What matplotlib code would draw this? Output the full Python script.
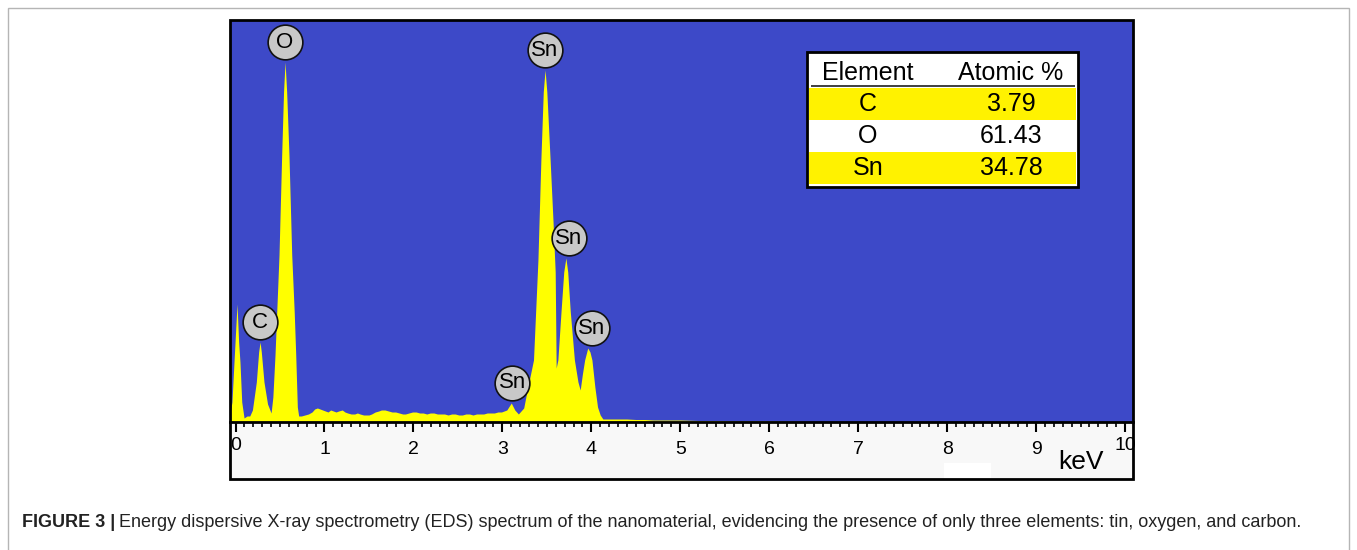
import matplotlib.pyplot as plt
from matplotlib.patches import Rectangle
from matplotlib.ticker import MultipleLocator
from matplotlib.transforms import ScaledTranslation

plt.rcParams["font.family"] = ["Liberation Sans", "DejaVu Sans"]

# EDS spectrum (energy in keV, counts in arbitrary units)
energy_kev = [
    -0.062, -0.04, -0.017, 0.017, 0.035, 0.05, 0.07, 0.096, 0.13,
    0.16, 0.19, 0.234, 0.26, 0.276, 0.29, 0.32, 0.36, 0.40,
    0.42, 0.444, 0.489, 0.519, 0.54, 0.557, 0.575, 0.601, 0.632, 0.66,
    0.677, 0.695, 0.71,
    0.74, 0.78, 0.82, 0.86, 0.89, 0.92, 0.95, 0.98,
    1.01, 1.04, 1.07, 1.10, 1.13, 1.16, 1.20, 1.23, 1.26, 1.30,
    1.34, 1.37, 1.40, 1.44, 1.47, 1.50, 1.53, 1.57, 1.61, 1.64,
    1.68, 1.72, 1.76, 1.80, 1.84, 1.88, 1.91, 1.95, 1.99, 2.03,
    2.07, 2.11, 2.15, 2.19, 2.23, 2.27, 2.31, 2.35, 2.39, 2.43,
    2.47, 2.51, 2.55, 2.59, 2.63, 2.67, 2.71, 2.75, 2.79, 2.83,
    2.87, 2.91, 2.95, 2.99, 3.05, 3.10, 3.14, 3.18,
    3.24, 3.275, 3.35, 3.40, 3.433, 3.46, 3.48, 3.50, 3.537, 3.57,
    3.594, 3.605,
    3.624, 3.66, 3.69, 3.714, 3.735, 3.763, 3.81, 3.85, 3.875,
    3.90, 3.925, 3.96, 3.985, 4.007, 4.04, 4.07, 4.10, 4.13,
    4.2, 4.3, 4.4, 4.5, 4.6, 4.7, 4.8, 5.0, 5.2, 5.4, 5.6, 5.9,
    6.5, 7.5, 8.5, 9.5, 10.1,
]
counts = [
    8, 20, 60, 118, 80, 60, 20, 4, 6,
    6, 12, 40, 70, 80, 70, 40, 18, 9,
    25, 67, 167, 267, 330, 360, 330, 267, 167, 110,
    67, 15, 6,
    6, 7, 8, 10, 13, 14, 13, 12,
    11, 10, 12, 11, 10, 11, 12, 10, 9, 8,
    8, 9, 8, 7, 7, 7, 8, 10, 11, 12,
    12, 11, 10, 10, 9, 8, 8, 9, 10, 10,
    9, 9, 8, 9, 9, 8, 8, 8, 7, 8,
    8, 7, 7, 8, 8, 7, 8, 8, 8, 9,
    9, 9, 10, 10, 12, 19, 12, 8,
    14, 30, 62, 162, 262, 330, 352, 330, 262, 200,
    150, 54,
    62, 111, 150, 164, 150, 111, 62, 40, 32,
    48, 62, 74, 70, 62, 35, 15, 7, 3,
    3, 3, 3, 2.5, 2.5, 2, 2, 2, 1.5, 1.5, 1, 1,
    0.5, 0.5, 0.5, 0.5, 0.5,
]

# identified lines (label, energy of label, peak height under it)
line_labels = ["C", "O", "Sn", "Sn", "Sn", "Sn"]
line_energy = [0.276, 0.557, 3.114, 3.48, 3.75, 4.007]
line_height = [80, 360, 19, 352, 164, 74]

# quantification table
table_elements = ["C", "O", "Sn"]
table_atomic = ["3.79", "61.43", "34.78"]

xtick_values = list(range(0, 11))

W, H = 1357, 550
BLUE = "#3d49c8"
YELLOW = "#ffff00"
TABLE_YELLOW = "#fff200"

fig = plt.figure(figsize=(W / 100, H / 100), dpi=100)


def fig_rect(x0, y0, x1, y1, **kw):
    # rectangle given in picture pixels (y from the top)
    r = Rectangle((x0 / W, 1 - y1 / H), (x1 - x0) / W, (y1 - y0) / H,
                  transform=fig.transFigure, **kw)
    fig.add_artist(r)
    return r


# outer border of the figure panel
fig_rect(8, 8, 1349, 600, fill=False, ec="#b5b5b5", lw=1, clip_on=False)

ax = fig.add_axes([230 / W, 1 - 479 / H, 903 / W, 459 / H])
ax.set_facecolor("#f8f8f8")
ax.set_xlim(-0.062, 10.09)
ax.set_ylim(-57, 402)
ax.axhspan(0, 402, color=BLUE, lw=0, zorder=0)
ax.fill_between(energy_kev, counts, 0, color=YELLOW, lw=0, zorder=1)

for side in ["top", "left", "right"]:
    ax.spines[side].set_visible(False)
ax.spines["bottom"].set_position(("data", 0))
ax.spines["bottom"].set_linewidth(2)
ax.spines["bottom"].set_zorder(4)
ax.set_yticks([])
ax.set_xticks(xtick_values)
ax.set_xticklabels([str(v) for v in xtick_values])
ax.xaxis.set_minor_locator(MultipleLocator(0.1))
ax.tick_params(axis="x", which="major", direction="out", length=7.5,
               width=1.5, pad=6.5, labelsize=14)
ax.tick_params(axis="x", which="minor", direction="out", length=3.3,
               width=1.2)
labels = ax.get_xticklabels()
for lbl in (labels[0], labels[-1]):
    lbl.set_transform(lbl.get_transform()
                      + ScaledTranslation(0, 4 / 100, fig.dpi_scale_trans))

ax.add_patch(Rectangle((0, 0), 1, 1, transform=ax.transAxes, fill=False,
                       ec="black", lw=2, zorder=6, clip_on=False))
ax.add_patch(Rectangle((7.96, -56), 0.53, 15, color="white", lw=0, zorder=2))
ax.text(9.51, -40, "keV", fontsize=19, ha="center", va="center")

# element markers above the peaks
lift = ax.transData + ScaledTranslation(0, 20 / 100, fig.dpi_scale_trans)
for lab, e, h in zip(line_labels, line_energy, line_height):
    ax.plot([e], [h], marker="o", ms=25, mfc="#c8c8c8", mec="#111111",
            mew=1.2, transform=lift, zorder=7, clip_on=False)
    ax.text(e, h, lab, fontsize=16, ha="center", va="center",
            transform=lift, zorder=8)

# quantification table (pixel layout)
fig_rect(807, 52, 1078, 187, fc="white", ec="black", lw=2, zorder=3)
row_y = [(88, 120), (120, 152), (152, 184)]
for i, (y0, y1) in enumerate(row_y):
    if i % 2 == 0:
        fig_rect(809, y0, 1076, y1, fc=TABLE_YELLOW, lw=0, zorder=3.5)
fig_rect(811, 85, 1075, 86.5, fc="#444444", lw=0, zorder=3.5)

col_x = [868, 1011]
fig.text(col_x[0] / W, 1 - 73 / H, "Element", fontsize=18,
         ha="center", va="center", zorder=4)
fig.text(col_x[1] / W, 1 - 73 / H, "Atomic %", fontsize=18,
         ha="center", va="center", zorder=4)
for (y0, y1), el, val in zip(row_y, table_elements, table_atomic):
    yc = 1 - (y0 + y1) / 2 / H
    fig.text(col_x[0] / W, yc, el, fontsize=18, ha="center",
             va="center", zorder=4)
    fig.text(col_x[1] / W, yc, val, fontsize=18, ha="center",
             va="center", zorder=4)

# caption
cap_family = ["Liberation Sans Narrow", "Liberation Sans"]
t1 = fig.text(22 / W, 1 - 531 / H, "FIGURE 3 |", fontsize=13,
              weight="bold", family=cap_family, color="#222222",
              va="bottom")
ax.annotate("Energy dispersive X-ray spectrometry (EDS) spectrum of the "
            "nanomaterial, evidencing the presence of only three elements: "
            "tin, oxygen, and carbon.",
            xy=(1, 0), xycoords=t1, xytext=(3, 0),
            textcoords="offset points", fontsize=13, family=cap_family,
            color="#222222", ha="left", va="bottom", annotation_clip=False)

fig.savefig("out.png", dpi=100)
